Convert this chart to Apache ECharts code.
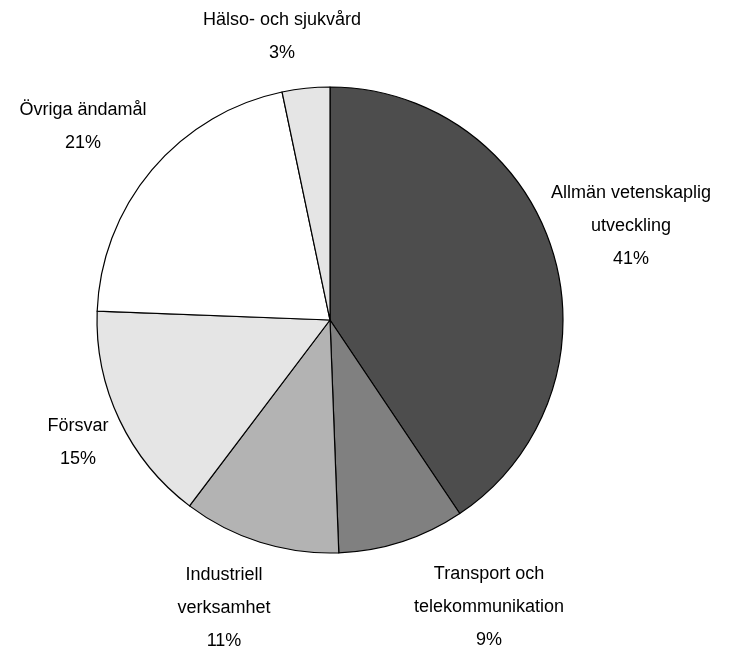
<!DOCTYPE html>
<html>
<head>
    <meta charset="utf-8">
    <title>ECharts</title>
    <script src="https://cdn.jsdelivr.net/npm/echarts@6/dist/echarts.min.js"></script>
</head>
<body style="margin:0">
    <div id="main" style="width: 732px;height:651px;background:#fff"></div>
</body>
</html>

<script type="text/javascript">
    var categories = ['Allmän vetenskaplig\nutveckling', 'Transport och\ntelekommunikation', 'Industriell\nverksamhet', 'Försvar', 'Övriga ändamål', 'Hälso- och sjukvård'];
    var values = [40.6, 8.8, 10.9, 15.3, 21.1, 3.3];
    var colors = ['#4d4d4d', '#808080', '#b3b3b3', '#e5e5e5', '#ffffff', '#e5e5e5'];

    // label centre offsets from pie centre
    var labelOffsets = [[301, -94], [159, 287], [-106, 288], [-252, 123], [-247, -193], [-48, -283]];
    var cx = 330, cy = 320;

    var myChart = echarts.init(document.getElementById('main'));

    var data = [];
    for (var i = 0; i < values.length; i++) {
        data.push({ name: categories[i], value: values[i], itemStyle: { color: colors[i] } });
    }

    var option = {
        backgroundColor: '#fff',
        animation: false,
        series: [{
            type: 'pie',
            center: [cx, cy],
            radius: 233,
            startAngle: 90,
            clockwise: true,
            data: data,
            itemStyle: { borderColor: '#000', borderWidth: 1.2 },
            emphasis: { disabled: true },
            label: {
                show: true,
                position: 'outside',
                formatter: function (p) {
                    return p.name + '\n' + Math.round(p.percent) + '%';
                },
                color: '#000',
                fontFamily: 'Liberation Sans, Arial',
                fontSize: 18,
                lineHeight: 33,
                align: 'center',
                overflow: 'none',
                width: 300
            },
            labelLine: { show: false },
            labelLayout: function (params) {
                var o = labelOffsets[params.dataIndex];
                return { x: cx + o[0], y: cy + o[1], align: 'center', verticalAlign: 'middle', hideOverlap: false };
            }
        }]
    };

    myChart.setOption(option);
</script>
